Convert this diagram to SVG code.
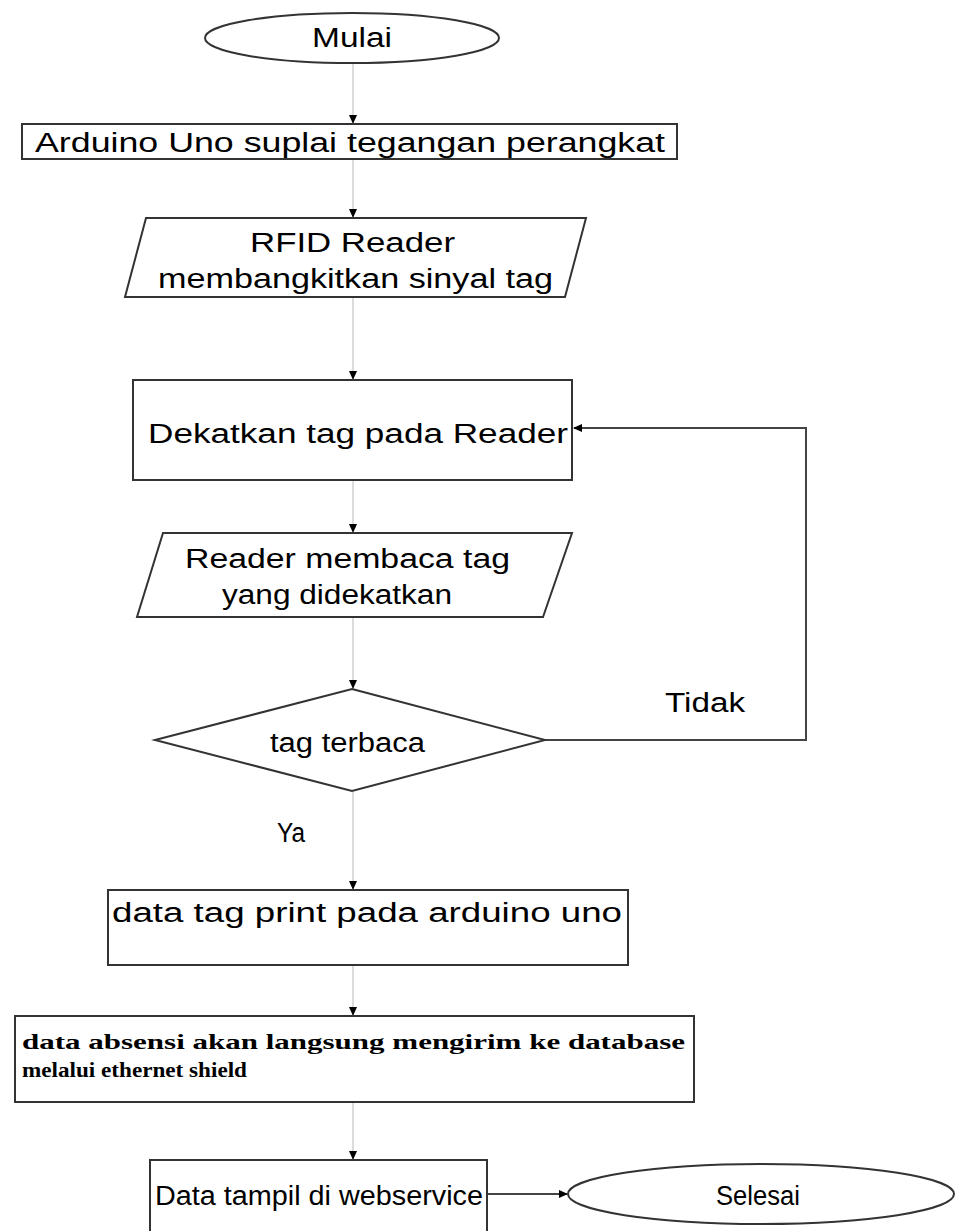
<svg xmlns="http://www.w3.org/2000/svg" width="960" height="1231" viewBox="0 0 960 1231">
<defs>
<style>
.shape{fill:#fff;stroke:#333;stroke-width:2}
.t{font-family:"Liberation Sans",Arial,sans-serif;font-size:27px;fill:#000}
.s{font-family:"Liberation Serif","Times New Roman",serif;font-size:21px;font-weight:bold;fill:#000}
.c{fill:none;stroke:#d0d0d0;stroke-width:1.5}
.cd{fill:none;stroke:#444;stroke-width:2}
</style>
<marker id="ah" markerWidth="9" markerHeight="8" refX="8" refY="4" orient="auto" markerUnits="userSpaceOnUse">
<path d="M0,0 L9,4 L0,8 Z" fill="#000"/>
</marker>
</defs>
<rect width="960" height="1231" fill="#fff"/>
<g id="connectors">
<line class="c" x1="353" y1="64" x2="353" y2="123" marker-end="url(#ah)"/>
<line class="c" x1="353" y1="159" x2="353" y2="217" marker-end="url(#ah)"/>
<line class="c" x1="353" y1="298" x2="353" y2="379" marker-end="url(#ah)"/>
<line class="c" x1="353" y1="481" x2="353" y2="532" marker-end="url(#ah)"/>
<line class="c" x1="353" y1="618" x2="353" y2="688" marker-end="url(#ah)"/>
<polyline class="cd" points="545,740 806,740 806,428 574,428" marker-end="url(#ah)"/>
<line class="c" x1="353" y1="792" x2="353" y2="889" marker-end="url(#ah)"/>
<line class="c" x1="353" y1="966" x2="353" y2="1015" marker-end="url(#ah)"/>
<line class="c" x1="353" y1="1103" x2="353" y2="1159" marker-end="url(#ah)"/>
<line class="cd" x1="488" y1="1194" x2="567" y2="1194" marker-end="url(#ah)"/>
<text class="t" x="665" y="712" textLength="80" lengthAdjust="spacingAndGlyphs">Tidak</text>
<text class="t" x="277" y="842" textLength="28" lengthAdjust="spacingAndGlyphs">Ya</text>
</g>
<g id="mulai">
<ellipse class="shape" cx="352" cy="38" rx="147" ry="25"/>
<text class="t" x="312" y="47" textLength="80" lengthAdjust="spacingAndGlyphs">Mulai</text>
</g>
<g id="suplai">
<rect class="shape" x="22" y="124" width="655" height="35"/>
<text class="t" x="35" y="152" textLength="630" lengthAdjust="spacingAndGlyphs">Arduino Uno suplai tegangan perangkat</text>
</g>
<g id="rfid">
<polygon class="shape" points="146,218 586,218 565,297 125,297"/>
<text class="t" x="250" y="252" textLength="205" lengthAdjust="spacingAndGlyphs">RFID Reader</text>
<text class="t" x="158" y="288" textLength="395" lengthAdjust="spacingAndGlyphs">membangkitkan sinyal tag</text>
</g>
<g id="dekatkan">
<rect class="shape" x="133" y="380" width="439" height="100"/>
<text class="t" x="148" y="443" textLength="420" lengthAdjust="spacingAndGlyphs">Dekatkan tag pada Reader</text>
</g>
<g id="membaca">
<polygon class="shape" points="163,533 572,533 543,617 137,617"/>
<text class="t" x="185" y="568" textLength="325" lengthAdjust="spacingAndGlyphs">Reader membaca tag</text>
<text class="t" x="222" y="604" textLength="230" lengthAdjust="spacingAndGlyphs">yang didekatkan</text>
</g>
<g id="terbaca">
<polygon class="shape" points="352,689 545,740 352,791 155,740"/>
<text class="t" x="270" y="752" textLength="155" lengthAdjust="spacingAndGlyphs">tag terbaca</text>
</g>
<g id="print">
<rect class="shape" x="108" y="890" width="520" height="75"/>
<text class="t" x="112" y="922" textLength="510" lengthAdjust="spacingAndGlyphs">data tag print pada arduino uno</text>
</g>
<g id="kirim">
<rect class="shape" x="15" y="1016" width="679" height="86"/>
<text class="s" x="22" y="1049" textLength="663" lengthAdjust="spacingAndGlyphs">data absensi akan langsung mengirim ke database</text>
<text class="s" x="22" y="1077" textLength="225" lengthAdjust="spacingAndGlyphs">melalui ethernet shield</text>
</g>
<g id="tampil">
<rect class="shape" x="150" y="1160" width="337" height="80"/>
<text class="t" x="155" y="1205" textLength="328" lengthAdjust="spacingAndGlyphs">Data tampil di webservice</text>
</g>
<g id="selesai">
<ellipse class="shape" cx="761" cy="1194" rx="193" ry="30"/>
<text class="t" x="716" y="1205" textLength="84" lengthAdjust="spacingAndGlyphs">Selesai</text>
</g>
</svg>
